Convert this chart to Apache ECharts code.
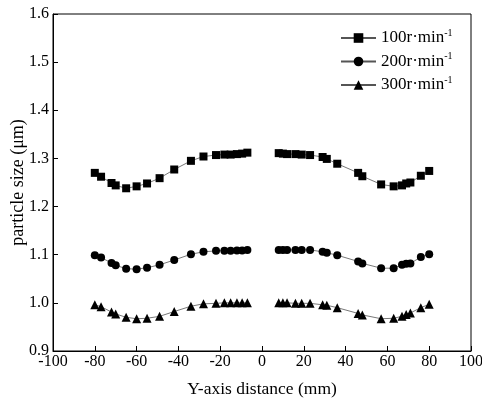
<!DOCTYPE html>
<html>
<head>
<meta charset="utf-8">
<script src="https://cdn.jsdelivr.net/npm/echarts@6/dist/echarts.min.js"></script>
<style>html,body{margin:0;padding:0;background:#fff}#c{width:482px;height:401px}</style>
</head>
<body>
<div id="c"></div>
<script>
const xLeft = [-80,-77,-72,-70,-65,-60,-55,-49,-42,-34,-28,-22,-18,-15,-12,-9.5,-7];
const xRight = [8,10,12,16,19,23,29,31,36,46,48,57,63,67,69,71,76,80];
const s100Left = [1.270,1.262,1.249,1.244,1.238,1.242,1.248,1.259,1.277,1.295,1.304,1.307,1.308,1.308,1.309,1.310,1.312];
const s100Right = [1.311,1.310,1.309,1.309,1.308,1.307,1.303,1.299,1.289,1.270,1.263,1.246,1.242,1.244,1.248,1.250,1.264,1.274];
const s200Left = [1.099,1.094,1.083,1.078,1.071,1.070,1.073,1.079,1.089,1.101,1.106,1.108,1.108,1.108,1.109,1.109,1.110];
const s200Right = [1.110,1.110,1.110,1.110,1.110,1.110,1.106,1.104,1.099,1.086,1.082,1.072,1.072,1.079,1.081,1.082,1.095,1.101];
const s300Left = [0.996,0.992,0.981,0.977,0.970,0.967,0.968,0.972,0.982,0.993,0.998,0.999,1.000,1.000,1.000,1.000,1.000];
const s300Right = [1.000,1.000,1.000,0.999,0.999,0.999,0.996,0.995,0.990,0.978,0.975,0.967,0.968,0.972,0.976,0.979,0.990,0.997];
const seriesNames = ['100r·min', '200r·min', '300r·min'];
const symbols = ['rect', 'circle', 'triangle'];
const symbolSizes = [8, 8, 9];

function build(left, right) {
  const d = left.map((v, i) => [xLeft[i], v]);
  d.push(['-', '-']);
  return d.concat(right.map((v, i) => [xRight[i], v]));
}
const allData = [build(s100Left, s100Right), build(s200Left, s200Right), build(s300Left, s300Right)];

const FONT = '"Liberation Serif", "Times New Roman", serif';
const chart = echarts.init(document.getElementById('c'));
chart.setOption({
  animation: false,
  backgroundColor: '#fff',
  grid: { left: 53, right: 11, top: 14, bottom: 50, show: true, borderColor: '#000', borderWidth: 1,
          outerBoundsMode: 'none', containLabel: false },
  legend: {
    orient: 'vertical', left: 340, top: 28, itemWidth: 35, itemHeight: 12, itemGap: 5, padding: 0,
    data: seriesNames,
    formatter: n => '{n|' + n + '}{s|-1}',
    textStyle: {
      fontFamily: FONT, color: '#000', fontSize: 17,
      rich: { n: { fontFamily: FONT, fontSize: 17, color: '#000' },
              s: { fontFamily: FONT, fontSize: 10, color: '#000', padding: [0, 0, 10, 0] } }
    }
  },
  xAxis: {
    type: 'value', min: -100, max: 100, interval: 20,
    name: 'Y-axis distance (mm)', nameLocation: 'middle', nameGap: 29, nameMoveOverlap: false,
    nameTextStyle: { fontFamily: FONT, fontSize: 17.5, color: '#000' },
    axisLine: { onZero: false, lineStyle: { color: '#000', width: 1 } },
    axisTick: { inside: true, length: 5, lineStyle: { color: '#000' } },
    axisLabel: { fontFamily: FONT, fontSize: 16, color: '#000', margin: 3 },
    splitLine: { show: false }
  },
  yAxis: {
    type: 'value', min: 0.9, max: 1.6, interval: 0.1,
    name: 'particle size (μm)', nameLocation: 'middle', nameGap: 26, nameMoveOverlap: false,
    nameTextStyle: { fontFamily: FONT, fontSize: 18, color: '#000' },
    axisLine: { show: true, onZero: false, lineStyle: { color: '#000', width: 1 } },
    axisTick: { show: true, inside: true, length: 5, lineStyle: { color: '#000' } },
    axisLabel: { fontFamily: FONT, fontSize: 16, color: '#000', margin: 4, formatter: v => v.toFixed(1) },
    splitLine: { show: false }
  },
  series: seriesNames.map((n, k) => ({
    name: n, type: 'line', data: allData[k], connectNulls: false,
    symbol: symbols[k], symbolSize: symbolSizes[k],
    itemStyle: { color: '#000' },
    lineStyle: { color: '#555', width: 0.8 }
  }))
});
</script>
</body>
</html>
